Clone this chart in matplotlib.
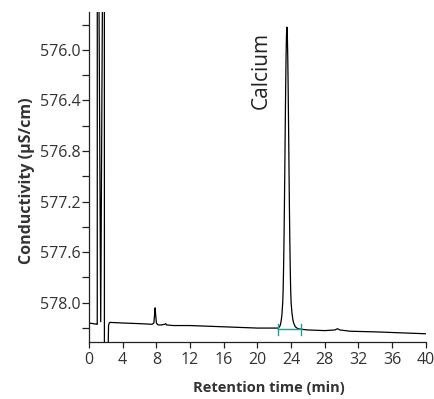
import numpy as np
import matplotlib.pyplot as plt

plt.rcParams['font.family'] = ['Open Sans', 'DejaVu Sans']

# trace points (time in min, conductivity in uS/cm)
time = [0.0, 0.5, 0.97, 0.98, 0.985, 1.185, 1.19, 1.16, 1.39, 1.62, 1.825,
        1.83, 2.285, 2.29, 2.32, 2.4, 2.5, 4.0, 6.0, 7.5, 7.7, 7.78, 7.85,
        7.92, 8.0, 8.2, 8.6, 9.0, 9.1, 9.2, 10.0, 12.0, 14.0, 16.0, 18.0,
        20.0, 22.0, 22.5, 22.7, 22.8, 22.9, 23.0, 23.05, 23.1, 23.15, 23.2,
        23.25, 23.3, 23.35, 23.4, 23.45, 23.5, 23.55, 23.6, 23.65, 23.7,
        23.75, 23.8, 23.85, 23.9, 23.95, 24.0, 24.1, 24.2, 24.3, 24.5, 24.8,
        25.3, 26.0, 28.0, 29.2, 29.5, 29.8, 31.0, 34.0, 36.0, 38.0, 40.0]
signal = [578.16, 578.165, 578.17, 578.17, 574.0, 574.0, 575.3, 575.3,
          578.15, 575.3, 575.3, 579.0, 579.0, 578.3, 578.18, 578.16, 578.155,
          578.16, 578.165, 578.17, 578.16, 578.10, 578.04, 578.10, 578.16,
          578.175, 578.175, 578.17, 578.165, 578.175, 578.18, 578.18, 578.185,
          578.19, 578.195, 578.2, 578.2, 578.2, 578.18, 578.15, 578.1,
          578.0, 577.91, 577.74, 577.53, 577.26, 576.95, 576.62, 576.31,
          576.05, 575.88, 575.82, 575.88, 576.05, 576.31, 576.62, 576.95,
          577.26, 577.53, 577.74, 577.91, 578.0, 578.08, 578.13, 578.16,
          578.19, 578.205, 578.21, 578.215, 578.22, 578.215, 578.205,
          578.215, 578.225, 578.23, 578.235, 578.24, 578.245]

peak_name = 'Calcium'
peak_start, peak_end = 22.5, 25.15
peak_base = 578.21

fig = plt.figure(figsize=(4.35, 3.99), dpi=100)
ax = fig.add_axes([0.2046, 0.1429, 0.7744, 0.8271])

ax.plot(time, signal, color='black', lw=0.9, clip_on=True)

# integration markers
teal = '#1f9e8f'
ax.plot([peak_start, peak_end], [peak_base, peak_base], color=teal, lw=1.0)
for t in (peak_start, peak_end):
    ax.plot([t, t], [peak_base - 0.045, peak_base + 0.045], color=teal, lw=1.0)

ax.text(20.5, 576.16, peak_name, rotation=90, ha='center', va='center',
        fontsize=15, color='#222222')

ax.set_xlim(0, 40)
ax.set_ylim(578.31, 575.70)
ax.set_xticks(np.arange(0, 41, 4))
ax.set_yticks([576.0, 576.4, 576.8, 577.2, 577.6, 578.0])
ax.set_yticklabels(['576.0', '576.4', '576.8', '577.2', '577.6', '578.0'])
ax.set_yticks(np.arange(575.8, 578.3, 0.4), minor=True)

for s in ('top', 'right'):
    ax.spines[s].set_visible(False)
for s in ('left', 'bottom'):
    ax.spines[s].set_linewidth(0.9)
    ax.spines[s].set_color('#222222')

ax.tick_params(axis='both', which='both', direction='out', length=5,
               width=0.9, color='#222222', labelsize=11.5, labelcolor='#333333')
ax.tick_params(axis='y', pad=1)
ax.tick_params(axis='x', length=4, pad=3)

ax.set_xlabel('Retention time (min)', fontsize=10.5, fontweight='bold',
              color='#333333', va='center')
ax.set_ylabel('Conductivity (\u00b5S/cm)', fontsize=11.5, fontweight='bold',
              color='#333333', va='center')
ax.xaxis.set_label_coords(0.534, -0.139)
ax.yaxis.set_label_coords(-0.184, 0.488)

fig.savefig('out.png', dpi=100)
